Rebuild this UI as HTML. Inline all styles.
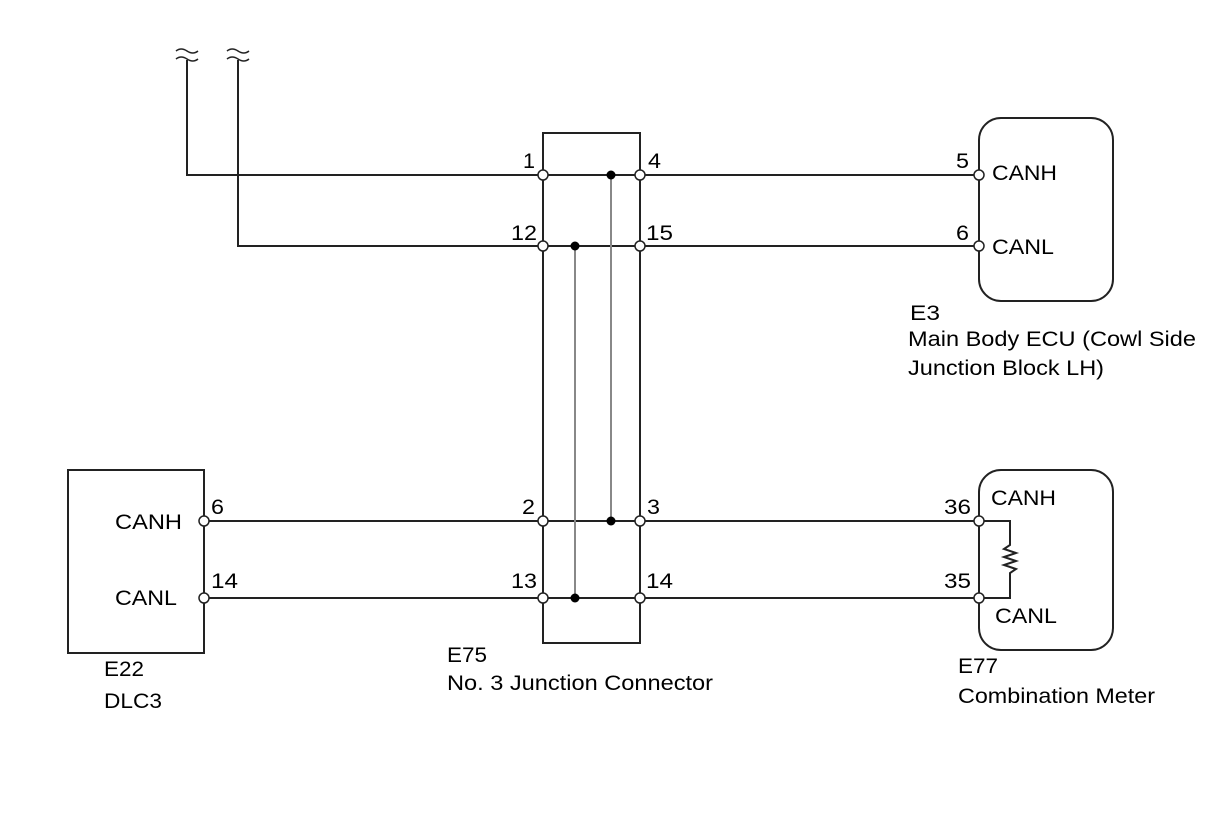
<!DOCTYPE html>
<html><head><style>body{margin:0;background:#fff}</style></head><body>
<svg width="1210" height="814" viewBox="0 0 1210 814" xmlns="http://www.w3.org/2000/svg" font-family="Liberation Sans, sans-serif" font-size="21" fill="#000">
<g stroke="#222" stroke-width="2" fill="none">
<path d="M543 643 V133 H640 V643 Z"/>
<rect x="979" y="118" width="134" height="183" rx="22"/>
<rect x="979" y="470" width="134" height="180" rx="22"/>
<rect x="68" y="470" width="136" height="183"/>
<path d="M187 60 V175 H979"/>
<path d="M238 60 V246 H979"/>
<path d="M204 521 H979"/>
<path d="M204 598 H979"/>
<path d="M979 521 H1010 V545 l-6 4 l12 4 l-12 4 l12 4 l-12 4 l12 4 l-6 4 V598 H979"/>
<path d="M176 51 q5 -4 11 0 t11 0 M176 59 q5 -4 11 0 t11 0 M227 51 q5 -4 11 0 t11 0 M227 59 q5 -4 11 0 t11 0" stroke-width="1.5"/>
</g>
<g stroke="#888" stroke-width="2"><path d="M611 175 V521 M575 246 V598"/></g>
<g fill="#000"><circle cx="611" cy="175" r="4.5"/><circle cx="611" cy="521" r="4.5"/><circle cx="575" cy="246" r="4.5"/><circle cx="575" cy="598" r="4.5"/></g>
<g fill="#fff" stroke="#222" stroke-width="1.5">
<circle cx="543" cy="175" r="5"/><circle cx="640" cy="175" r="5"/><circle cx="543" cy="246" r="5"/><circle cx="640" cy="246" r="5"/>
<circle cx="543" cy="521" r="5"/><circle cx="640" cy="521" r="5"/><circle cx="543" cy="598" r="5"/><circle cx="640" cy="598" r="5"/>
<circle cx="979" cy="175" r="5"/><circle cx="979" cy="246" r="5"/><circle cx="979" cy="521" r="5"/><circle cx="979" cy="598" r="5"/>
<circle cx="204" cy="521" r="5"/><circle cx="204" cy="598" r="5"/>
</g>
<g lengthAdjust="spacingAndGlyphs">
<text x="523" y="168" textLength="12" lengthAdjust="spacingAndGlyphs">1</text><text x="648" y="168" textLength="13" lengthAdjust="spacingAndGlyphs">4</text>
<text x="511" y="240" textLength="26" lengthAdjust="spacingAndGlyphs">12</text><text x="646" y="240" textLength="27" lengthAdjust="spacingAndGlyphs">15</text>
<text x="522" y="514" textLength="13" lengthAdjust="spacingAndGlyphs">2</text><text x="647" y="514" textLength="13" lengthAdjust="spacingAndGlyphs">3</text>
<text x="511" y="588" textLength="26" lengthAdjust="spacingAndGlyphs">13</text><text x="646" y="588" textLength="27" lengthAdjust="spacingAndGlyphs">14</text>
<text x="956" y="168" textLength="13" lengthAdjust="spacingAndGlyphs">5</text><text x="992" y="180" textLength="65" lengthAdjust="spacingAndGlyphs">CANH</text>
<text x="956" y="240" textLength="13" lengthAdjust="spacingAndGlyphs">6</text><text x="992" y="254" textLength="62" lengthAdjust="spacingAndGlyphs">CANL</text>
<text x="944" y="514" textLength="27" lengthAdjust="spacingAndGlyphs">36</text><text x="991" y="505" textLength="65" lengthAdjust="spacingAndGlyphs">CANH</text>
<text x="944" y="588" textLength="27" lengthAdjust="spacingAndGlyphs">35</text><text x="995" y="623" textLength="62" lengthAdjust="spacingAndGlyphs">CANL</text>
<text x="211" y="514" textLength="13" lengthAdjust="spacingAndGlyphs">6</text><text x="115" y="529" textLength="67" lengthAdjust="spacingAndGlyphs">CANH</text>
<text x="211" y="588" textLength="27" lengthAdjust="spacingAndGlyphs">14</text><text x="115" y="605" textLength="62" lengthAdjust="spacingAndGlyphs">CANL</text>
<text x="910" y="320" textLength="30" lengthAdjust="spacingAndGlyphs">E3</text>
<text x="908" y="346" textLength="288" lengthAdjust="spacingAndGlyphs">Main Body ECU (Cowl Side</text>
<text x="908" y="375" textLength="196" lengthAdjust="spacingAndGlyphs">Junction Block LH)</text>
<text x="447" y="662" textLength="40" lengthAdjust="spacingAndGlyphs">E75</text>
<text x="447" y="690" textLength="266" lengthAdjust="spacingAndGlyphs">No. 3 Junction Connector</text>
<text x="958" y="673" textLength="40" lengthAdjust="spacingAndGlyphs">E77</text>
<text x="958" y="703" textLength="197" lengthAdjust="spacingAndGlyphs">Combination Meter</text>
<text x="104" y="676" textLength="40" lengthAdjust="spacingAndGlyphs">E22</text>
<text x="104" y="708" textLength="58" lengthAdjust="spacingAndGlyphs">DLC3</text>
</g>
</svg>
</body></html>
